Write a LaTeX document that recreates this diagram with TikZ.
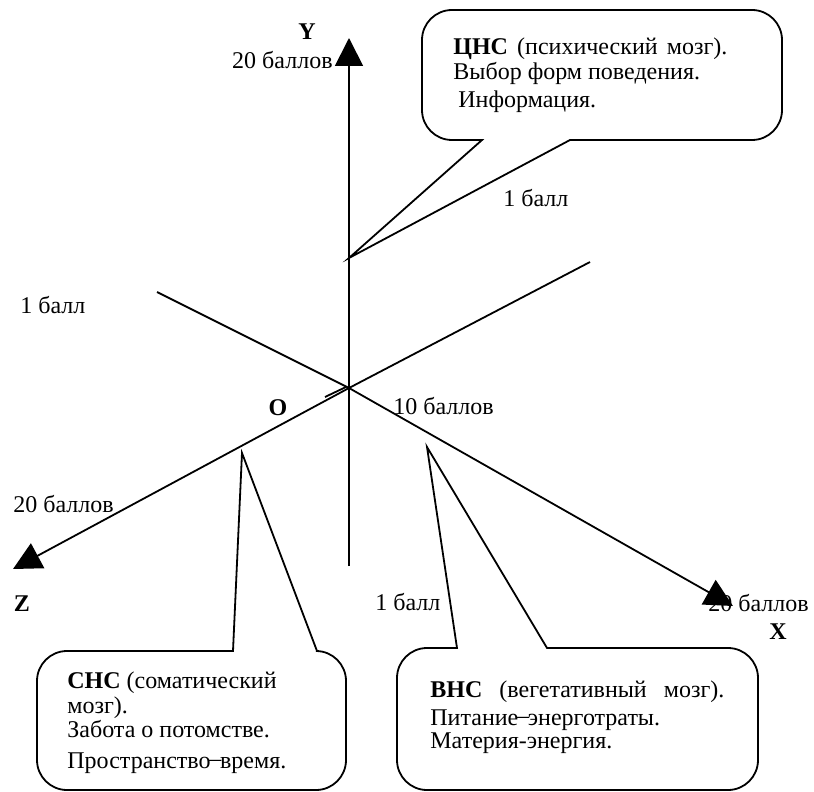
\documentclass[tikz,border=0pt]{standalone}
\usepackage{fontspec}
\setmainfont{Liberation Serif}
\usetikzlibrary{arrows.meta}
\begin{document}
\begin{tikzpicture}[x=0.5pt,y=-0.5pt,
  ax/.style={line width=0.9pt},
  tri/.style={-{Triangle[width=14pt,length=14pt]}},
  lbl/.style={font=\fontsize{12}{14}\selectfont, inner sep=0pt, anchor=base west},
  bl/.style={font=\fontsize{12}{14}\selectfont\bfseries, inner sep=0pt},
  callout/.style={line width=0.9pt}]
\useasboundingbox (0,0) rectangle (814,792);
% axis points
\coordinate (O) at (349,388);
\coordinate (Ytip) at (349,38);
\coordinate (Ybot) at (349,566);
\coordinate (Xtip) at (733,606);
\coordinate (Ztip) at (13,569);
\coordinate (UL) at (157,292);
\coordinate (UR) at (590,262);
\coordinate (S1) at (325,397);
\coordinate (S2) at (346,387);
% axes
\draw[ax,tri] (Ybot) -- (Ytip);
\draw[ax] (UL) -- (O);
\draw[ax,tri] (O) -- (Xtip);
\draw[ax] (UR) -- (O);
\draw[ax,tri] (O) -- (Ztip);
\draw[ax] (S1) -- (S2);
% callouts
\coordinate (Tapex) at (349,258);
\draw[callout] (482,140) -- (Tapex) -- (570,140) [rounded corners=15pt] -- (782,140) -- (782,10) -- (422,10) -- (422,140) [sharp corners] -- cycle;
\coordinate (Lapex) at (242,453);
\draw[callout] (317,651) -- (Lapex) -- (233,651) [rounded corners=15pt] -- (37,651) -- (37,790) -- (346,790) -- (346,651) [sharp corners] -- cycle;
\coordinate (Rapex) at (427,447);
\draw[callout] (547,648) -- (Rapex) -- (457,648) [rounded corners=15pt] -- (397,648) -- (397,790) -- (758,790) -- (758,648) [sharp corners] -- cycle;
% axis labels
\node[bl] (Ylab) at (307,32) {Y};
\node[lbl, anchor=base east] (Y20) at (333,69) {20 баллов};
\node[lbl] (Top1) at (503,206) {1 балл};
\node[lbl] (Left1) at (20,313) {1 балл};
\node[bl] (Olab) at (278,408) {O};
\node[lbl] (X10) at (393,414) {10 баллов};
\node[lbl] (Z20) at (13,512) {20 баллов};
\node[bl] (Zlab) at (22,604) {Z};
\node[lbl] (Bot1) at (375,610) {1 балл};
\node[lbl] (X20) at (708,611) {20 баллов};
\node[bl] (Xlab) at (778,632) {X};
% callout texts
\node[lbl] (T1) at (453,55) {\makebox[137pt][s]{\textbf{ЦНС} (психический мозг).}};
\node[lbl] (T2) at (453,80) {Выбор форм поведения.};
\node[lbl] (T3) at (458,108) {Информация.};
\node[lbl] (L1) at (67,688) {\textbf{СНС} (соматический};
\node[lbl] (L2) at (67,713) {мозг).};
\node[lbl] (L3) at (67,737) {Забота о потомстве.};
\node[lbl] (L4) at (67,768) {Пространство\kern-0.6pt\raisebox{0.9pt}{–}\kern-0.6pt время.};
\node[lbl] (R1) at (430,697) {\makebox[147pt][s]{\textbf{ВНС} (вегетативный мозг).}};
\node[lbl] (R2) at (430,725) {Питание\kern-0.6pt\raisebox{0.9pt}{–}\kern-0.6pt энерготраты.};
\node[lbl] (R3) at (430,748) {Материя-энергия.};
\end{tikzpicture}
\end{document}
